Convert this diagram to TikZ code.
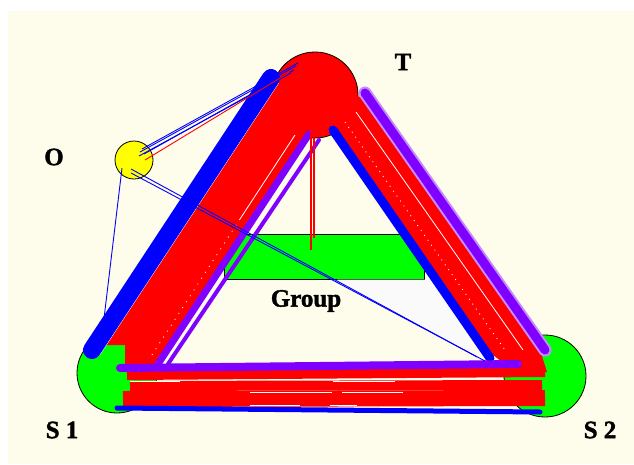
\documentclass[tikz,border=0pt]{standalone}
\usepackage{fontspec}
\setmainfont{Liberation Serif}
\newfontfamily\lblfont{Liberation Serif}[BoldFeatures={FakeBold=1.5}]
\definecolor{cream}{RGB}{254,252,234}
\definecolor{pur}{RGB}{128,0,255}
\definecolor{lgreen}{RGB}{0,255,0}
\definecolor{myred}{RGB}{255,0,0}
\definecolor{myblue}{RGB}{0,0,255}
\definecolor{myyellow}{RGB}{255,255,0}
\definecolor{nearwhite}{RGB}{250,250,250}
\begin{document}
\begin{tikzpicture}[x=1pt,y=-1pt,
  site/.style={circle, draw=black, line width=0.8pt, inner sep=0pt},
  lbl/.style={font=\lblfont\fontsize{25}{25}\selectfont\bfseries, inner sep=0pt},
  blueband/.style={draw=myblue, line cap=round},
  purband/.style={draw=pur, line cap=round},
  redline/.style={draw=myred},
  thinblue/.style={draw=myblue, line width=0.9pt},
  thinred/.style={draw=myred, line width=0.9pt},
  gap/.style={draw=white, line width=0.8pt}
]
\useasboundingbox (0,0) rectangle (634,464);
\fill[white] (0,0) rectangle (634,464);
\fill[cream] (8,11) rectangle (634,464);

% group box and light area
\node[draw=black, line width=0.6pt, fill=lgreen, minimum width=200pt, minimum height=45pt, inner sep=0pt] (G) at (324,256.5) {};
\fill[nearwhite] (337,279.5) -- (434,279.5) -- (478,357) -- cycle;

% sites
\node[site, fill=myred, minimum size=86pt] (T) at (315,95) {};
\node[site, fill=lgreen, minimum size=80pt] (S1) at (117,373) {};
\node[site, fill=lgreen, minimum size=82pt] (S2) at (545,376) {};
\node[site, fill=myyellow, minimum size=38pt] (O) at (134,160) {};

% named band end points
\coordinate (bL1) at (271,78);  \coordinate (bL2) at (92,350);
\coordinate (pA1) at (309,134); \coordinate (pA2) at (158,364);
\coordinate (pB1) at (319,140); \coordinate (pB2) at (168,364);
\coordinate (bR1) at (333,130); \coordinate (bR2) at (490,358);
\coordinate (pR1) at (365,93);  \coordinate (pR2) at (545,350);
\coordinate (pD1) at (120,368); \coordinate (pD2) at (518,364);
\coordinate (bD1) at (117,408); \coordinate (bD2) at (540,412);

% red bands
\fill[myred] (280,80) -- (318,122) -- (158,368) -- (125,368) -- (125,345) -- (106,345) -- cycle;
\fill[myred] (330,105) -- (361,96) -- (541,353) -- (547,372) -- (515,372) -- (493,355) -- (336,127) -- cycle;
\draw[redline, line width=10pt] (127,375) -- (545,372);
\draw[redline, line width=10pt] (130,386) -- (542,385);
\draw[redline, line width=16pt] (123,399) -- (545,398);

% gaps inside the red bands
\draw[gap] (278.5,83) -- (99.5,355);
\draw[gap] (295,135) -- (240,219);
\draw[gap, dash pattern=on 1pt off 6pt] (240,219) -- (150,358);
\draw[gap] (356,112) -- (523,350);
\draw[gap, dash pattern=on 1pt off 5pt] (345,122) -- (505,350);
\draw[gap] (130,381) -- (180,381);
\draw[gap] (333,381) -- (395,381);
\draw[gap] (250,392) -- (332,392);
\draw[gap] (342,392) -- (403,392);
\draw[gap] (250,405.5) -- (300,405.5);
\draw[gap] (330,405.5) -- (357,405.5);

% blue and purple bands
\draw[blueband, line width=18pt] (bL1) -- (bL2);
\draw[purband, line width=7pt] (pA1) -- (pA2);
\draw[purband, line width=4pt] (pB1) -- (pB2);
\draw[blueband, line width=9pt] (bR1) -- (bR2);
\draw[draw=pur!45, line cap=round, line width=13pt] (pR1) -- (pR2);
\draw[purband, line width=9pt] (pR1) -- (pR2);
\draw[purband, line width=8pt] (pD1) -- (pD2);
\draw[blueband, line width=5pt] (bD1) -- (bD2);

% thin connectors
\coordinate (oT1) at (140,152); \coordinate (tO1) at (296,66);
\coordinate (oT2) at (142,149); \coordinate (tO2) at (298,63);
\coordinate (oT3) at (144,154); \coordinate (tO3) at (294,70);
\coordinate (oT4) at (139,156); \coordinate (tO4) at (291,73);
\coordinate (oTr) at (145,160); \coordinate (tOr) at (290,72);
\coordinate (oS1) at (122,168); \coordinate (s1O) at (100,352);
\coordinate (oSa) at (131,169); \coordinate (s2a) at (477,357);
\coordinate (oSb) at (131,173); \coordinate (s2b) at (485,361);
\coordinate (tG1) at (311,132); \coordinate (gT1) at (311,250);
\coordinate (tG2) at (314,132); \coordinate (gT2) at (314,238);
\draw[thinblue] (oT1) -- (tO1);
\draw[thinblue] (oT2) -- (tO2);
\draw[thinblue] (oT3) -- (tO3);
\draw[thinblue] (oT4) -- (tO4);
\draw[thinred] (oTr) -- (tOr);
\draw[thinblue] (oS1) -- (s1O);
\draw[thinblue] (oSa) -- (s2a);
\draw[thinblue] (oSb) -- (s2b);
\draw[thinred, line width=1.2pt] (tG1) -- (gT1);
\draw[thinred, line width=1.2pt] (tG2) -- (gT2);

% labels
\node[lbl] (lT) at (403,62) {T};
\node[lbl] (lO) at (54,157) {O};
\node[lbl] (lS1) at (62,430) {S 1};
\node[lbl] (lS2) at (600,430) {S 2};
\node[lbl] (lG) at (306,301) {Group};
\end{tikzpicture}
\end{document}
